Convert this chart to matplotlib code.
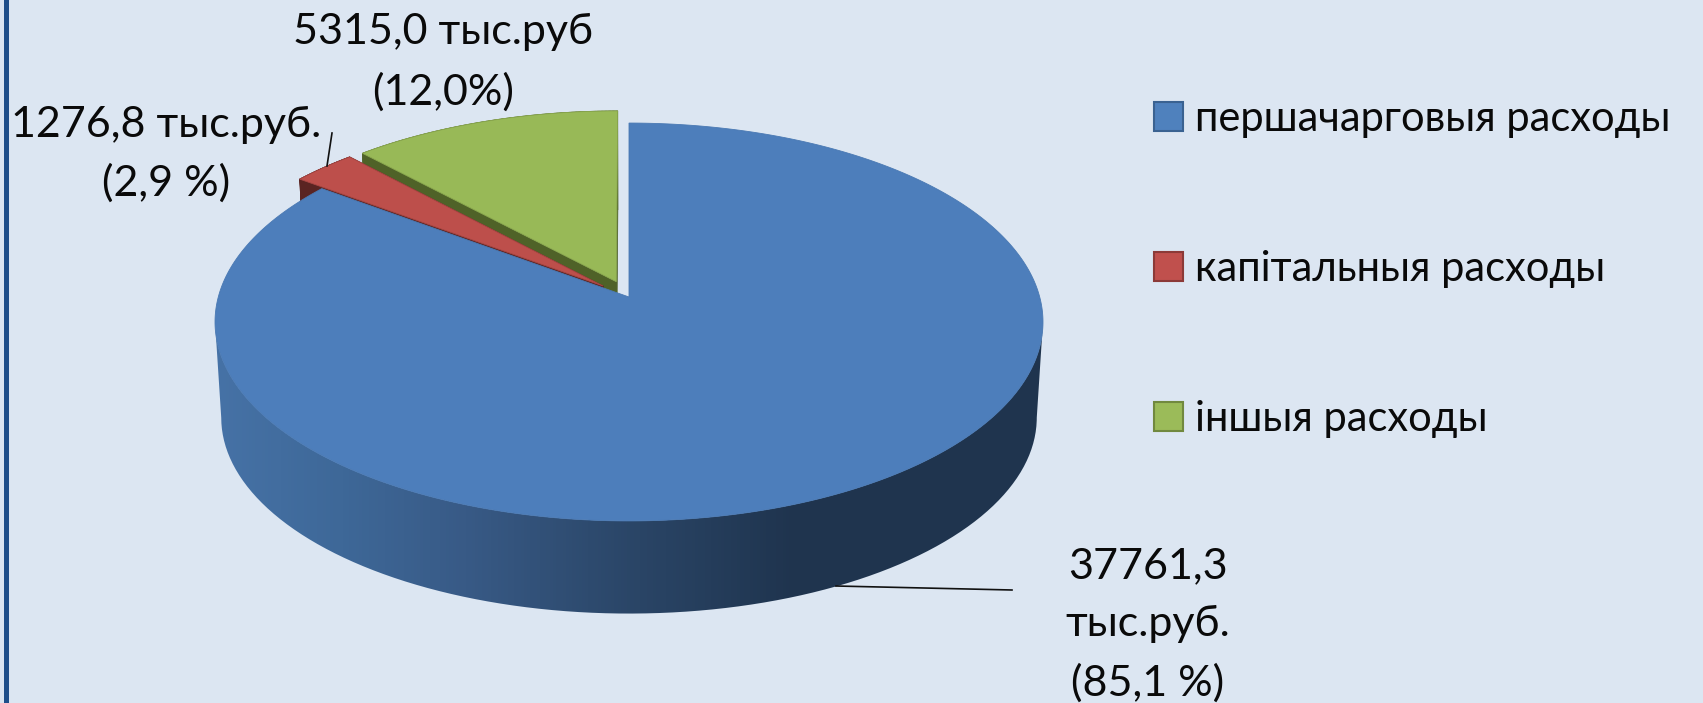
import numpy as np
import matplotlib
matplotlib.use('Agg')
import matplotlib.pyplot as plt
from matplotlib.patches import Patch, PathPatch
from matplotlib.path import Path
from matplotlib.collections import PolyCollection
from matplotlib.colors import LinearSegmentedColormap

categories = ['першачарговыя расходы', 'капітальныя расходы', 'іншыя расходы']
values = [37761.3, 1276.8, 5315.0]
explode = [0.0, 0.085, 0.085]
top_colors = ['#4d7ebb', '#bd4f4b', '#98b957']
side_colors = ['#2c4d75', '#5a2422', '#4f6228']
slice_edges = ['#4a79b3', '#a84643', '#8aa84e']
legend_fill = ['#4f81bd', '#c0504d', '#9bbb59']
legend_edge = ['#3a6291', '#8c3a38', '#71893f']
label_lines = [
    ['37761,3', 'тыс.руб.', '(85,1 %)'],
    ['1276,8 тыс.руб.', '(2,9 %)'],
    ['5315,0 тыс.руб', '(12,0%)'],
]

W, H = 1703, 703
bg = '#dce6f2'

plt.rcParams['font.family'] = ['Lato', 'Open Sans', 'DejaVu Sans']

# pie plane seen in perspective, k pushes the centre up inside the ellipse
K = 0.1256
A = 410.7
B = 195.8
CX, CY = 629, 297
DROP = 96
SHRINK = 0.985


def project(u, v, low=False):
    d = 1 + K * v
    x = A * u / d
    y = -B * v / d
    if low:
        return CX + SHRINK * x, CY + DROP + SHRINK * y
    return CX + x, CY + y


def arc(a0, a1, ex, bis, low=False, n=200):
    t = np.radians(np.linspace(a0, a1, n))
    u = np.sin(t) + ex * np.sin(bis)
    v = np.cos(t) + ex * np.cos(bis)
    return project(u, v, low)


def quads(x1, y1, x2, y2):
    return [[(x1[j], y1[j]), (x1[j + 1], y1[j + 1]), (x2[j + 1], y2[j + 1]), (x2[j], y2[j])]
            for j in range(len(x1) - 1)]


fig = plt.figure(figsize=(W / 100, H / 100), dpi=100, facecolor=bg)
ax = fig.add_axes([0, 0, 1, 1])
ax.set_xlim(0, W)
ax.set_ylim(H, 0)
ax.axis('off')

# strip on the left edge
ax.axvspan(3.5, 8.5, color='#1f4f8a', lw=0, zorder=1)

angles = np.cumsum([0] + values) / sum(values) * 360

# red and green first, blue sits in front of them
for i in [2, 1]:
    a0, a1 = angles[i], angles[i + 1]
    bis = np.radians((a0 + a1) / 2)
    ax_, ay_ = project(explode[i] * np.sin(bis), explode[i] * np.cos(bis))
    bx_, by_ = project(explode[i] * np.sin(bis), explode[i] * np.cos(bis), True)
    tx, ty = arc(a0, a1, explode[i], bis)
    lx, ly = arc(a0, a1, explode[i], bis, True)
    ox = np.r_[ax_, tx, ax_]
    oy = np.r_[ay_, ty, ay_]
    ox2 = np.r_[bx_, lx, bx_]
    oy2 = np.r_[by_, ly, by_]
    ax.add_collection(PolyCollection(quads(ox, oy, ox2, oy2), facecolors=side_colors[i],
                                     edgecolors=side_colors[i], lw=0.5, zorder=2))
    ax.fill(ox, oy, facecolor=top_colors[i], edgecolor=slice_edges[i], lw=0.6, zorder=3)

# blue wall: gradient along x, clipped between the two tangent points of the front arc
tangent = np.degrees(np.arccos(-K))
fx, fy = arc(tangent, 360 - tangent, 0, 0)
gx, gy = arc(tangent, 360 - tangent, 0, 0, True)
outline = np.c_[np.r_[fx, gx[::-1], fx[0]], np.r_[fy, gy[::-1], fy[0]]]
cmap = LinearSegmentedColormap.from_list('wall', [(0, '#4672a6'), (0.15, '#3e6898'), (0.30, '#385a86'),
                                                  (0.51, '#2a4566'), (0.70, '#1f344e'), (1, '#1f344e')])
im = ax.imshow(np.linspace(0, 1, 829)[None, :], extent=(216, 1045, 640, 300), cmap=cmap,
               aspect='auto', zorder=4)
im.set_clip_path(PathPatch(Path(outline), transform=ax.transData))
ax.set_xlim(0, W)
ax.set_ylim(H, 0)

tx, ty = arc(angles[0], angles[1], 0, 0, n=600)
ax.fill(np.r_[CX, tx, CX], np.r_[CY, ty, CY], facecolor=top_colors[0], edgecolor=slice_edges[0],
        lw=0.6, zorder=5)

# leader lines
ax.plot([836, 1012], [586, 590], color='#111111', lw=1.2, zorder=6)
ax.plot([332, 327], [133, 166], color='#111111', lw=1.2, zorder=6)

text_xy = [(1148, [566, 624, 683]), (166, [125, 183]), (443, [32, 92])]
for lines, (x, ys) in zip(label_lines, text_xy):
    for s, y in zip(lines, ys):
        ax.text(x, y, s, fontsize=31, ha='center', va='center', color='#0a0a0a', zorder=7)

handles = [Patch(facecolor=c, edgecolor=e, lw=1.5) for c, e in zip(legend_fill, legend_edge)]
ax.legend(handles, categories, loc='upper left', bbox_to_anchor=(1154, 100),
          bbox_transform=ax.transData, frameon=False, fontsize=30, labelcolor='#0a0a0a',
          handlelength=0.7, handleheight=0.7, handletextpad=0.28, labelspacing=2.69,
          borderpad=0, borderaxespad=0)

fig.savefig('out.png', dpi=100, facecolor=bg)
